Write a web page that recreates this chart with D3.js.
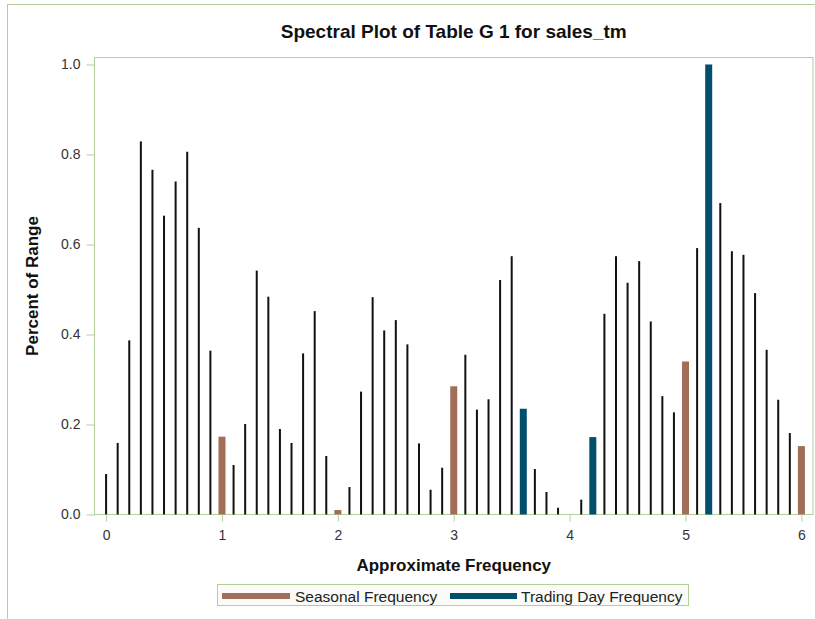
<!DOCTYPE html>
<html>
<head>
<meta charset="utf-8">
<script src="https://cdn.jsdelivr.net/npm/d3@7"></script>
<style>
  html, body { margin: 0; padding: 0; background: #fff; }
  svg { display: block; font-family: "Liberation Sans", Arial, sans-serif; }
</style>
</head>
<body>
<svg id="chart" width="815" height="619"></svg>
<script>
// Spectral estimates, one per approximate frequency step of 0.1
const frequencies = d3.range(0, 61).map(i => +(i / 10).toFixed(1));
const percentOfRange = [
  0.090, 0.159, 0.387, 0.829, 0.766, 0.664, 0.740, 0.806, 0.637, 0.364,
  0.173, 0.110, 0.201, 0.542, 0.484, 0.190, 0.159, 0.358, 0.452, 0.130,
  0.010, 0.061, 0.273, 0.483, 0.409, 0.432, 0.378, 0.158, 0.055, 0.104,
  0.285, 0.355, 0.233, 0.256, 0.521, 0.574, 0.235, 0.101, 0.050, 0.015,
  0.000, 0.033, 0.172, 0.446, 0.574, 0.515, 0.563, 0.429, 0.263, 0.227,
  0.340, 0.592, 1.000, 0.692, 0.585, 0.577, 0.492, 0.366, 0.255, 0.181,
  0.152
];
const seasonalFrequencies = [1, 2, 3, 4, 5, 6];
const tradingDayFrequencies = [3.6, 4.2, 5.2];
const xTickValues = [0, 1, 2, 3, 4, 5, 6];
const yTickValues = [0, 0.2, 0.4, 0.6, 0.8, 1.0];
const legendLabels = ["Seasonal Frequency", "Trading Day Frequency"];

const seasonalColor = "#a26e59";
const tradingColor = "#004f6d";
const frameColor = "#b3cf9c";

const svg = d3.select("#chart");

// outer graph border
svg.append("rect")
  .attr("x", 7.5).attr("y", 4.5)
  .attr("width", 830).attr("height", 640)
  .attr("fill", "none").attr("stroke", frameColor).attr("stroke-width", 1);

const plot = { left: 94.5, right: 813, top: 57.5, bottom: 514.5 };

const x = d3.scaleLinear().domain([-0.1, 6.1]).range([plot.left, plot.right]);
const y = d3.scaleLinear().domain([0, 1.0155]).range([plot.bottom, plot.top]);

// data area frame
svg.append("rect")
  .attr("x", plot.left).attr("y", plot.top)
  .attr("width", plot.right - plot.left).attr("height", plot.bottom - plot.top)
  .attr("fill", "none").attr("stroke", frameColor).attr("stroke-width", 1);

// classify each frequency
const data = frequencies.map((f, i) => {
  let kind = "plain";
  if (seasonalFrequencies.some(s => Math.abs(s - f) < 1e-6)) kind = "seasonal";
  else if (tradingDayFrequencies.some(t => Math.abs(t - f) < 1e-6)) kind = "trading";
  return { f, v: percentOfRange[i], kind };
});

const bars = svg.append("g");
bars.selectAll("rect")
  .data(data)
  .join("rect")
  .attr("x", d => x(d.f) - (d.kind === "plain" ? 1 : 3.5))
  .attr("width", d => d.kind === "plain" ? 2 : 7)
  .attr("y", d => y(d.v))
  .attr("height", d => y(0) - y(d.v))
  .attr("fill", d => d.kind === "seasonal" ? seasonalColor : d.kind === "trading" ? tradingColor : "#111");

// axes
const xAxis = d3.axisBottom(x).tickValues(xTickValues).tickFormat(d3.format("d"))
  .tickSize(7).tickPadding(9);
const yAxis = d3.axisLeft(y).tickValues(yTickValues).tickFormat(d3.format(".1f"))
  .tickSize(8).tickPadding(6);

const gx = svg.append("g").attr("transform", `translate(0,${plot.bottom})`).call(xAxis);
const gy = svg.append("g").attr("transform", `translate(${plot.left},0)`).call(yAxis);

[gx, gy].forEach(g => {
  g.select(".domain").remove();
  g.selectAll(".tick line").attr("stroke", frameColor);
  g.selectAll(".tick text")
    .attr("fill", "#333")
    .style("font-size", "14px")
    .style("font-family", "'Liberation Sans', Arial, sans-serif");
});

// title and axis labels
svg.append("text")
  .attr("x", (plot.left + plot.right) / 2).attr("y", 38)
  .attr("text-anchor", "middle")
  .style("font-size", "19px").style("font-weight", "bold")
  .attr("fill", "#111")
  .text("Spectral Plot of Table G 1 for sales_tm");

svg.append("text")
  .attr("x", (plot.left + plot.right) / 2).attr("y", 571)
  .attr("text-anchor", "middle")
  .style("font-size", "17px").style("font-weight", "bold")
  .attr("fill", "#111")
  .text("Approximate Frequency");

svg.append("text")
  .attr("transform", `translate(38,${(plot.top + plot.bottom) / 2}) rotate(-90)`)
  .attr("text-anchor", "middle")
  .style("font-size", "17px").style("font-weight", "bold")
  .attr("fill", "#111")
  .text("Percent of Range");

// legend
const legend = svg.append("g");
legend.append("rect")
  .attr("x", 217.5).attr("y", 584.5).attr("width", 471).attr("height", 21)
  .attr("fill", "#fbfbf7").attr("stroke", frameColor);

const legendItems = [
  { label: legendLabels[0], color: seasonalColor, x0: 222, x1: 290, tx: 295 },
  { label: legendLabels[1], color: tradingColor, x0: 450, x1: 517, tx: 521 }
];
legendItems.forEach(it => {
  legend.append("line")
    .attr("x1", it.x0).attr("x2", it.x1).attr("y1", 596).attr("y2", 596)
    .attr("stroke", it.color).attr("stroke-width", 6);
  legend.append("text")
    .attr("x", it.tx).attr("y", 601.5)
    .style("font-size", "15.5px")
    .attr("fill", "#222")
    .text(it.label);
});
</script>
</body>
</html>
